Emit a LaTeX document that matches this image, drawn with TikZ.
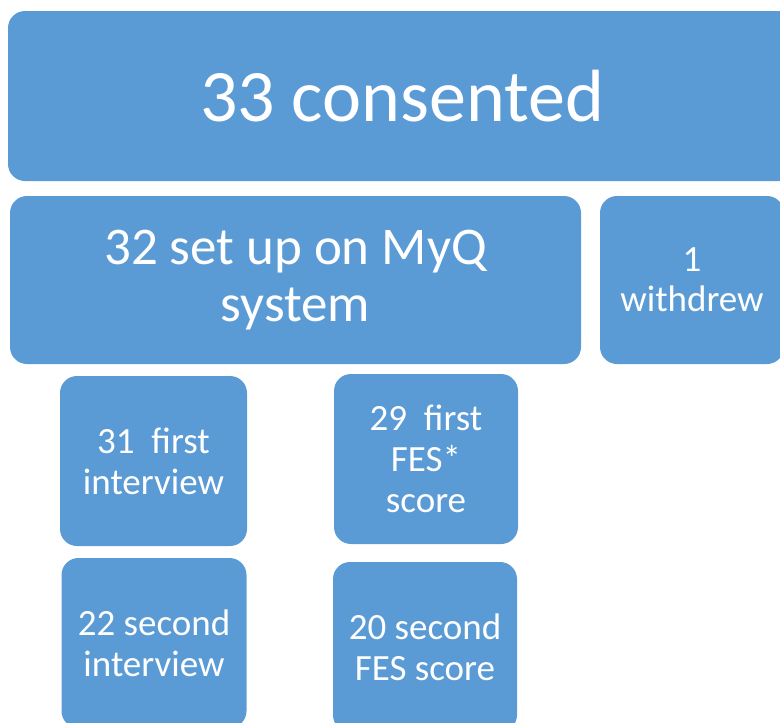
\documentclass[tikz,border=0pt]{standalone}
\usepackage{fontspec}
\setmainfont{Carlito}
\usetikzlibrary{positioning}
\definecolor{BoxBlue}{HTML}{5B9BD5}

\begin{document}
\begin{tikzpicture}[x=1pt, y=-1pt,
    flowbox/.style={fill=BoxBlue, text=white, rounded corners=17pt, align=center, inner sep=0pt},
    smallbox/.style={flowbox, minimum width=185pt, minimum height=170pt, font=\fontsize{37}{41}\selectfont}]
                \useasboundingbox (0,0) rectangle (780,723);
                \clip (0,0) rectangle (780,723);
                % Top
                \node[flowbox, minimum width=788pt, minimum height=170pt, font=\fontsize{74}{80}\selectfont] (consent) at (402, 96) {33 consented};
                
                % Second row
                \node[flowbox, minimum width=571pt, minimum height=168pt, font=\fontsize{53}{57}\selectfont] (setup) at (295.5, 280) {32 set up on MyQ\\system};
                
                \node[flowbox, minimum width=184pt, minimum height=168pt, font=\fontsize{37}{40}\selectfont] (withdrew) at (692, 280) {1\\withdrew};
                
                % Interviews
                \node[smallbox, minimum width=187pt] (int1) at (153.5, 461) {31~ first\\interview};
                
                \node[smallbox] (int2) at (154, 643) {22 second\\interview};
                
                % FES scores
                \node[smallbox, minimum width=184pt] (fes1) at (426, 459) {29~ first\\FES*\\score};
                
                \node[smallbox, minimum width=184pt] (fes2) at (425, 647) {20 second\\FES score};
            \end{tikzpicture}
\end{document}
